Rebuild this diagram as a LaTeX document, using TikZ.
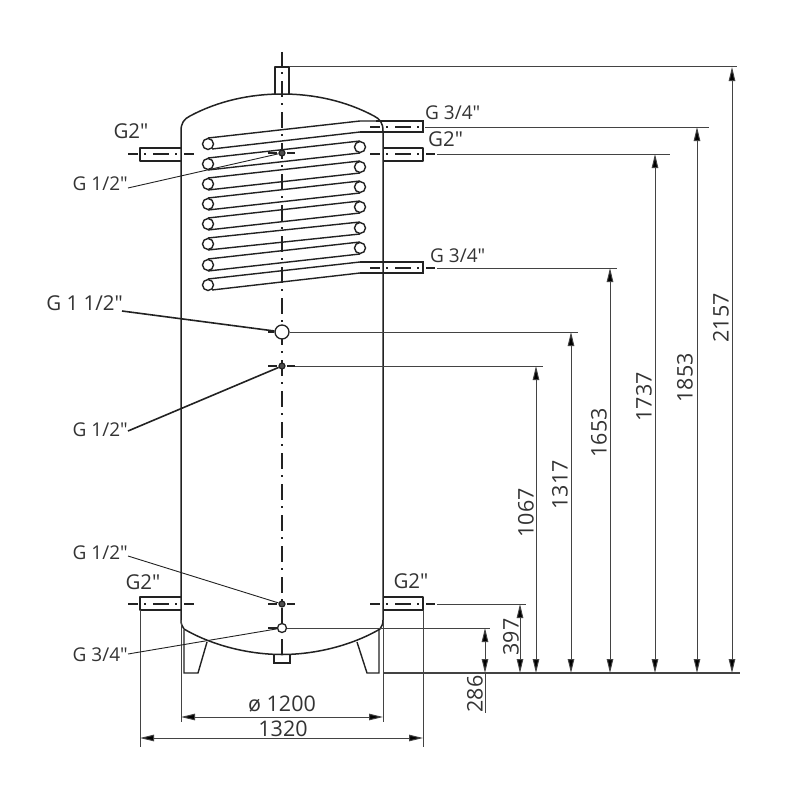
\documentclass[tikz,border=0pt]{standalone}
\usepackage{fontspec}
\setmainfont{Open Sans}
\newfontfamily\plainf{Open Sans}
\usetikzlibrary{arrows.meta}
\definecolor{ink}{HTML}{222222}
\definecolor{txt}{HTML}{333333}
\tikzset{
  body/.style={draw=ink,line width=1.5pt,line join=round},
  tube/.style={draw=ink,line width=1.4pt},
  axis/.style={draw=ink,line width=1.1pt,dash pattern=on 16pt off 6pt on 1.5pt off 7.5pt,dash phase=6pt},
  tick/.style={draw=ink,line width=1.1pt},
  dim/.style={draw=ink!85,line width=1pt,{Triangle[length=14pt,width=6.5pt,fill=black]}-{Triangle[length=14pt,width=6.5pt,fill=black]}},
  ext/.style={draw=ink!85,line width=1pt},
  lab/.style={text=txt,font=\plainf\fontsize{19}{22}\selectfont,inner sep=0pt},
  num/.style={text=txt,font=\plainf\fontsize{21.5}{24}\selectfont,inner sep=0pt},
  leader/.style={draw=ink,line width=0.9pt},
  heavy/.style={draw=ink,line width=1.6pt},
  dotm/.style={circle,draw=ink,line width=1.2pt,fill=ink!80,minimum size=6pt,inner sep=0pt},
  ringm/.style={circle,draw=ink,line width=1.3pt,fill=white,inner sep=0pt},
}
\begin{document}
\begin{tikzpicture}[x=1pt,y=-1pt]
\useasboundingbox (0,0) rectangle (800,800);
% tank outline
\draw[body] (181,620) -- (181,131) .. controls (181,123) and (184,119) .. (190,116)
  .. controls (218,101) and (250,94) .. (282,94)
  .. controls (314,94) and (346,101) .. (374,116)
  .. controls (380,119) and (383,123) .. (383,131) -- (383,620);
\draw[body] (181,620) .. controls (181,624) and (182,626) .. (184,629)
  .. controls (213,646) and (250,654.5) .. (282,654.5)
  .. controls (314,654.5) and (351,646) .. (380,629)
  .. controls (382,626) and (383,624) .. (383,620);
% legs, bottom stub
\draw[tube] (184,630) -- (184,673) -- (198,673) -- (207,642);
\draw[tube] (357,642) -- (367,673) -- (379,673) -- (379,630);
\draw[tube] (274,654) -- (274,663) -- (290,663) -- (290,654);
% top stub
\draw[body] (275,94) -- (275,67) -- (289,67) -- (289,94);
% side stubs
\draw[body] (181,148) -- (140,148) -- (140,161) -- (181,161);
\draw[body] (383,148) -- (423,148) -- (423,161) -- (383,161);
\draw[body] (181,597) -- (140,597) -- (140,610) -- (181,610);
\draw[body] (383,597) -- (423,597) -- (423,610) -- (383,610);
% coil outlets
\draw[tube] (376,121) -- (423,121) -- (423,132) -- (360,132);
\draw[tube] (360,262) -- (423,262) -- (423,273) -- (360,273);
% coil runs
\draw[tube] (208,138) -- (360,121) -- (376,121);
\draw[tube] (212,149) -- (360,132);
\foreach \l/\r in {164/147,184/167,204/187,224/207,244/228,265/248}{
  \draw[tube] (208,\l-6) -- (360,\r-6);
  \draw[tube] (208,\l+6) -- (360,\r+6);
}
\draw[tube] (208,279) -- (360,262);
\draw[tube] (212,290) -- (360,273);
\foreach \y in {144,164,184,204,224,244,265,285}
  \draw[tube,fill=white] (208,\y) circle (5.5);
\foreach \y in {147,167,187,207,228,248}
  \draw[tube,fill=white] (360,\y) circle (5.5);
% axes
\draw[axis,dash phase=2pt] (282,52) -- (282,654);
\draw[axis] (128,154) -- (194,154);
\draw[axis] (370,154) -- (435,154);
\draw[axis] (370,127) -- (423,127);
\draw[axis] (370,268) -- (435,268);
\draw[axis] (128,604) -- (194,604);
\draw[axis] (370,604) -- (435,604);
\foreach \y in {153,366,604}{
  \draw[tick] (268,\y) -- (277,\y);
  \draw[tick] (287,\y) -- (295,\y);
}
\draw[tick] (268,628) -- (277,628);
\draw[tick] (268,332) -- (274,332);
% connection markers
\node[dotm] (m1) at (282,153) {};
\node[dotm] (m2) at (282,366) {};
\node[dotm] (m3) at (282,604) {};
\node[ringm,minimum size=9pt] (m4) at (282,628) {};
\node[ringm,minimum size=14pt] (m5) at (282,332) {};
% base line and extension lines
\coordinate (base) at (383,673);
\draw[ext,line width=1.5pt] (base) -- (740,673);
\draw[ext] (289,67) -- (737,67);
\draw[ext] (425,127) -- (709,127);
\draw[ext] (437,154) -- (670,154);
\draw[ext] (437,268) -- (617,268);
\draw[ext] (m5) -- (578,332);
\draw[ext] (295,366) -- (543,366);
\draw[ext] (437,604) -- (526,604);
\draw[ext] (m4) -- (490,628);
% vertical dimensions
\draw[dim] (732,67) -- (732,673);
\draw[dim] (697,127) -- (697,673);
\draw[dim] (655,154) -- (655,673);
\draw[dim] (610,268) -- (610,673);
\draw[dim] (571,332) -- (571,673);
\draw[dim] (536,366) -- (536,673);
\draw[dim] (520,604) -- (520,673);
\draw[dim] (485,628) -- (485,673);
\draw[ext] (485,673) -- (485,713);
% horizontal dimensions
\draw[ext] (181,620) -- (181,722);
\draw[ext] (383,620) -- (383,722);
\draw[ext] (140,610) -- (140,747);
\draw[ext] (423,610) -- (423,747);
\draw[dim] (181,717) -- (383,717);
\draw[dim] (140,738) -- (423,738);
% labels
\node[lab,font=\plainf\fontsize{20.5}{22}\selectfont] (l1) at (131,131) {G2"};
\node[lab,anchor=west] (l2) at (425,113) {G 3/4"};
\node[lab,anchor=west,font=\plainf\fontsize{20.5}{22}\selectfont] (l3) at (428,139) {G2"};
\node[lab,anchor=west] (l4) at (430,256) {G 3/4"};
\node[lab,anchor=east] (l5) at (128,184) {G 1/2"};
\node[lab,anchor=east,font=\plainf\fontsize{20.5}{22}\selectfont] (l6) at (123,303) {G 1 1/2"};
\node[lab,anchor=east] (l7) at (128,430) {G 1/2"};
\node[lab,anchor=east] (l8) at (128,553) {G 1/2"};
\node[lab,font=\plainf\fontsize{20.5}{22}\selectfont] (l9) at (143,582) {G2"};
\node[lab,font=\plainf\fontsize{20.5}{22}\selectfont] (l10) at (411,581) {G2"};
\node[lab,anchor=east] (l11) at (128,655) {G 3/4"};
\coordinate (a5) at (122,311);
\coordinate (a7) at (128,431);
\coordinate (a1) at (128,188);
\coordinate (a8) at (128,556);
\coordinate (a11) at (128,654);
\draw[leader] (a1) -- (m1);
\draw[heavy] (a5) -- (m5);
\draw[heavy] (a7) -- (m2);
\draw[leader] (a8) -- (m3);
\draw[leader] (a11) -- (m4);
% dimension numbers
\node[num] (d1) at (282,704) {ø 1200};
\node[num] (d2) at (283,729) {1320};
\node[num,rotate=90] (d3) at (721,318) {2157};
\node[num,rotate=90] (d4) at (685,378) {1853};
\node[num,rotate=90] (d5) at (644,397) {1737};
\node[num,rotate=90] (d6) at (599,433) {1653};
\node[num,rotate=90] (d7) at (560,485) {1317};
\node[num,rotate=90] (d8) at (526,513) {1067};
\node[num,rotate=90] (d9) at (511,637) {397};
\node[num,rotate=90] (d10) at (475,694) {286};
\end{tikzpicture}
\end{document}
